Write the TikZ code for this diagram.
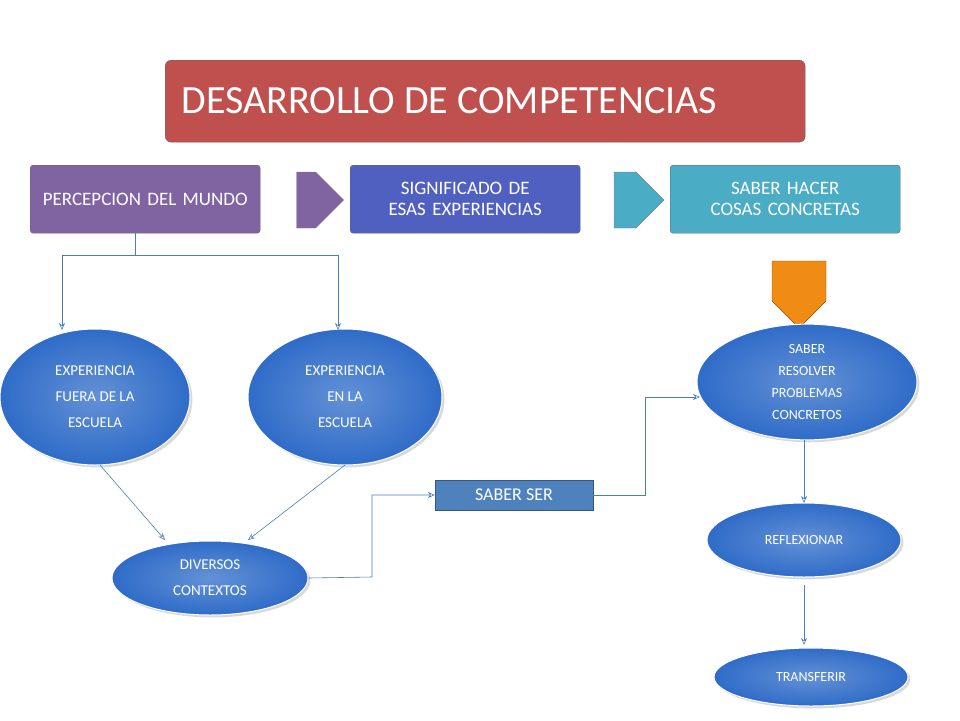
\documentclass[tikz,border=0pt]{standalone}
\usepackage{fontspec}
\setmainfont{Carlito}
\usetikzlibrary{shapes.geometric,shapes.arrows,arrows.meta,shadows}
\definecolor{lnc}{HTML}{4A7EBB}
\definecolor{ell}{HTML}{2F6CC8}
\begin{document}
\begin{tikzpicture}[x=1pt,y=-1pt,
 topbox/.style={draw=black!60,rounded corners=3pt,minimum width=230pt,minimum height=68pt,text width=210pt,align=center,text=white,font=\fontsize{19}{21}\selectfont,anchor=north west,inner sep=0pt},
 ov/.style={ellipse,draw=white,line width=1pt,inner color=ell!75,outer color=ell,text=white,align=center,font=\fontsize{15}{26}\selectfont,drop shadow={opacity=0.3}},
 ln/.style={draw=lnc,line width=0.6pt},
 ar/.style={ln,-{Stealth[length=7pt,width=6pt,open]}}]
\useasboundingbox (0,0) rectangle (960,720);
\fill[white] (0,0) rectangle (960,720);
\node[draw=black!60,rounded corners=6pt,fill={rgb,255:red,192;green,80;blue,77},minimum width=640pt,minimum height=82pt,anchor=north west,inner sep=0pt] (title) at (165,60) {};
\node[text=white,font=\fontsize{40}{44}\selectfont,anchor=west] (tt) at (178,101) {DESARROLLO DE COMPETENCIAS};
\node[topbox,fill={rgb,255:red,128;green,100;blue,162}] (b1) at (30,165) {PERCEPCION DEL MUNDO};
\node[topbox,fill={rgb,255:red,80;green,96;blue,192}] (b2) at (350,165) {SIGNIFICADO DE ESAS EXPERIENCIAS};
\node[topbox,fill={rgb,255:red,75;green,172;blue,198}] (b3) at (670,165) {SABER HACER COSAS CONCRETAS};
\node[single arrow,draw=black!50,fill={rgb,255:red,128;green,100;blue,162},minimum width=56pt,single arrow head extend=0pt,minimum height=47pt,inner sep=0pt] (a1) at (306,200) {};
\node[single arrow,draw=black!50,fill={rgb,255:red,75;green,172;blue,198},minimum width=56pt,single arrow head extend=0pt,minimum height=50pt,inner sep=0pt] (a2) at (625,200) {};
\node[single arrow,shape border rotate=270,draw=orange!60!black,fill={rgb,255:red,240;green,140;blue,20},minimum width=54pt,single arrow head extend=0pt,minimum height=67pt,inner sep=0pt] (a3) at (799,281) {};
\node[ov,minimum width=190pt,minimum height=136pt] (e1) at (95,397) {EXPERIENCIA\\FUERA DE LA\\ESCUELA};
\node[ov,minimum width=194pt,minimum height=136pt] (e2) at (345,397) {EXPERIENCIA\\EN LA\\ESCUELA};
\node[ov,minimum width=196pt,minimum height=74pt] (e3) at (210,578) {DIVERSOS\\CONTEXTOS};
\node[ov,minimum width=220pt,minimum height=100pt,font=\fontsize{14}{22}\selectfont] (e4) at (807,382) {SABER\\RESOLVER\\PROBLEMAS\\CONCRETOS};
\node[ov,minimum width=194pt,minimum height=74pt,font=\fontsize{14}{16}\selectfont] (e5) at (804,540) {REFLEXIONAR};
\node[ov,minimum width=194pt,minimum height=58pt,font=\fontsize{14}{16}\selectfont] (e6) at (811,677) {TRANSFERIR};
\node[draw=lnc!70!black,fill={rgb,255:red,79;green,129;blue,189},minimum width=158pt,minimum height=30pt,text=white,font=\fontsize{18}{20}\selectfont,inner sep=0pt] (ss) at (514,495) {SABER SER};
\coordinate (j) at (135,255);
\draw[ln] (135,233) -- (j);
\draw[ar] (j) -| (62,330);
\draw[ar] (j) -| (338,330);
\draw[ar] (100,465) -- (165,540);
\draw[ar] (345,465) -- (248,540);
\draw[ar] (e3.east) -- (372,577) |- (ss.west);
\draw[ar] (ss.east) -- (645,495) |- (700,397);
\draw[ar] (804,440) -- (804,503);
\draw[ar] (804,585) -- (804,645);
\end{tikzpicture}
\end{document}
